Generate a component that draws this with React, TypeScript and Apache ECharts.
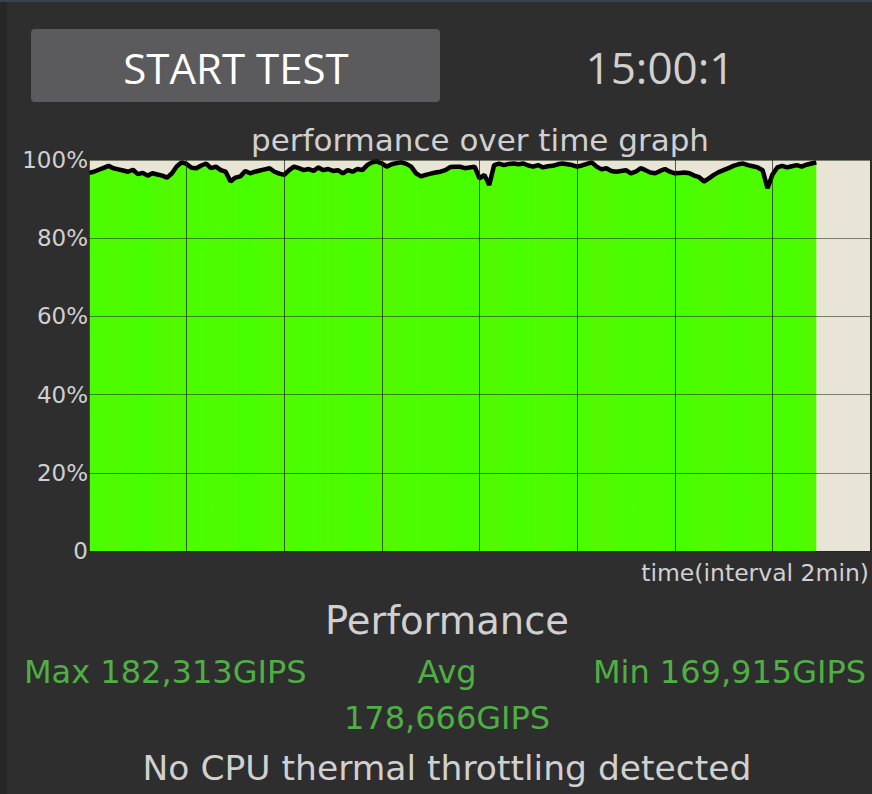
import React, { useEffect, useRef } from "react";
import * as echarts from "echarts";

const perfValues: number[] = [
  96.7, 97, 97.5, 98, 98.5, 97.9, 97.6, 97.3, 97, 97.5,
  96.4, 96.7, 96, 96.6, 96.3, 96, 95.5, 96.6, 98.4, 99.4,
  99, 98, 97.9, 98.6, 99.1, 97.9, 98.3, 97.4, 97, 94.5,
  95.5, 95.8, 97.2, 96.6, 97, 97.3, 97.6, 97.9, 97, 96.5,
  96.2, 97.4, 98.3, 97.9, 97.4, 97.7, 97.2, 98.1, 97.4, 97.7,
  97.2, 97.4, 96.6, 97.4, 97, 97.7, 97.4, 98.7, 99.4, 99.6,
  99.1, 98.3, 98.9, 99.2, 99.4, 99, 98.3, 96.6, 95.8, 96.2,
  96.5, 96.8, 97, 97.4, 98.2, 98.3, 98.3, 97.9, 98.1, 98.3,
  95.3, 96.2, 93.6, 98.7, 99.1, 98.7, 99, 99.1, 98.9, 99.1,
  98.6, 98.3, 98.7, 98.1, 98.4, 98.5, 98.9, 99.1, 98.9, 98.7,
  98.3, 98.6, 99, 99.4, 98.3, 97.6, 97.9, 97.2, 97, 97.2,
  97.4, 96.6, 97, 97.9, 97.4, 96.8, 96.6, 97.2, 97.7, 97,
  96.6, 96.7, 96.8, 96.6, 96, 95.6, 94.5, 95.3, 96.2, 96.9,
  97.4, 97.9, 98.5, 98.9, 99.1, 98.7, 98.4, 98.1, 97.4, 92.8,
  96.2, 98.1, 98.5, 98.1, 98.4, 98.7, 98.3, 98.8, 99.1, 99.4,
];
const timeStepMin = 0.1;
const timeMaxMin = 16;
const timeIntervalMin = 2;
const yTicks = [0, 20, 40, 60, 80, 100];

const titleText = "performance over time graph";
const axisNameText = "time(interval 2min)";
const buttonText = "START TEST";
const timerText = "15:00:1";
const perfHeading = "Performance";
const maxText = "Max 182,313GIPS";
const avgLabel = "Avg";
const avgText = "178,666GIPS";
const minText = "Min 169,915GIPS";
const statusText = "No CPU thermal throttling detected";

const stripeShades = [
  "#48ff00", "#50fa00", "#46ff00", "#54f800", "#4afe00", "#4efb00", "#45ff00",
  "#53f900", "#48ff00", "#4ffa00", "#46ff00", "#55f700", "#4afe00", "#4efb00",
  "#45ff00", "#52f900", "#48ff00", "#50fa00", "#46ff00", "#54f800", "#4afe00",
  "#4dfc00", "#45ff00", "#53f900", "#48ff00", "#4ffa00", "#46ff00", "#55f700",
];

export default function App() {
  const ref = useRef<HTMLDivElement>(null);
  useEffect(() => {
    document.body.style.margin = "0";
    document.body.style.background = "#2e2e2e";
    if (!ref.current) return;
    const chart = echarts.init(ref.current, null, { renderer: "svg" });
    const data = perfValues.map((v, i) => [Math.round(i * timeStepMin * 10) / 10, v]);
    const stops = stripeShades.map((c, i) => ({ offset: i / (stripeShades.length - 1), color: c }));
    const font = "'Open Sans', sans-serif";
    const dv = "'DejaVu Sans', sans-serif";
    const green = "#4fae44";
    const light = "#d0d0d0";
    chart.setOption({
      animation: false,
      backgroundColor: "#2e2e2e",
      grid: {
        left: 89,
        right: 2,
        top: 160,
        height: 391,
        show: true,
        backgroundColor: "#e8e5d6",
        borderWidth: 0,
      },
      xAxis: {
        type: "value",
        min: 0,
        max: timeMaxMin,
        interval: timeIntervalMin,
        z: 5,
        axisLine: { show: false },
        axisTick: { show: false },
        axisLabel: { show: false },
        splitLine: { show: true, lineStyle: { color: "rgba(30,40,20,0.75)", width: 1 } },
      },
      yAxis: {
        type: "value",
        min: 0,
        max: 100,
        interval: 20,
        z: 5,
        axisLine: { show: false },
        axisTick: { show: false },
        axisLabel: {
          show: true,
          color: light,
          fontSize: 23,
          fontFamily: dv,
          margin: 1,
          formatter: (v: number) => (yTicks.includes(v) ? (v === 0 ? "0" : v + "%") : ""),
        },
        splitLine: { show: true, lineStyle: { color: "rgba(30,40,20,0.55)", width: 1 } },
      },
      series: [
        {
          type: "line",
          data,
          symbol: "none",
          z: 1,
          lineStyle: { color: "#000", width: 4.5 },
          areaStyle: {
            opacity: 1,
            color: new echarts.graphic.LinearGradient(0, 0, 1, 0, stops),
          },
        },
      ],
      graphic: [
        { type: "rect", left: 0, top: 0, shape: { width: 7, height: 794 }, style: { fill: "#262626" }, z: 0 },
        { type: "rect", left: 0, top: 0, shape: { width: 872, height: 2 }, style: { fill: "#3b3f50" }, z: 0 },
        {
          type: "rect",
          left: 31,
          top: 29,
          shape: { width: 409, height: 73, r: 4 },
          style: { fill: "#5b5b5d" },
        },
        {
          type: "text",
          x: 236,
          y: 67,
          style: {
            text: buttonText,
            fill: "#ffffff",
            font: `42px ${font}`,
            textAlign: "center",
            textVerticalAlign: "middle",
          },
        },
        {
          type: "text",
          x: 660,
          y: 67,
          style: {
            text: timerText,
            fill: light,
            font: `44px ${font}`,
            textAlign: "center",
            textVerticalAlign: "middle",
          },
        },
        {
          type: "text",
          x: 480,
          y: 140,
          style: {
            text: titleText,
            fill: light,
            font: `31px ${dv}`,
            textAlign: "center",
            textVerticalAlign: "middle",
          },
        },
        {
          type: "text",
          x: 869,
          y: 573,
          style: {
            text: axisNameText,
            fill: light,
            font: `23.5px ${dv}`,
            textAlign: "right",
            textVerticalAlign: "middle",
          },
        },
        {
          type: "text",
          x: 447,
          y: 620,
          style: { text: perfHeading, fill: light, font: `38.5px ${dv}`, textAlign: "center", textVerticalAlign: "middle" },
        },
        {
          type: "text",
          x: 24,
          y: 672,
          style: { text: maxText, fill: green, font: `32px ${dv}`, textAlign: "left", textVerticalAlign: "middle" },
        },
        {
          type: "text",
          x: 447,
          y: 672,
          style: { text: avgLabel, fill: green, font: `32px ${dv}`, textAlign: "center", textVerticalAlign: "middle" },
        },
        {
          type: "text",
          x: 447,
          y: 718,
          style: { text: avgText, fill: green, font: `32px ${dv}`, textAlign: "center", textVerticalAlign: "middle" },
        },
        {
          type: "text",
          x: 866,
          y: 672,
          style: { text: minText, fill: green, font: `32px ${dv}`, textAlign: "right", textVerticalAlign: "middle" },
        },
        {
          type: "text",
          x: 447,
          y: 768,
          style: { text: statusText, fill: light, font: `34.5px ${dv}`, textAlign: "center", textVerticalAlign: "middle" },
        },
      ],
    });
    return () => chart.dispose();
  }, []);
  return <div ref={ref} style={{ width: 872, height: 794 }} />;
}
